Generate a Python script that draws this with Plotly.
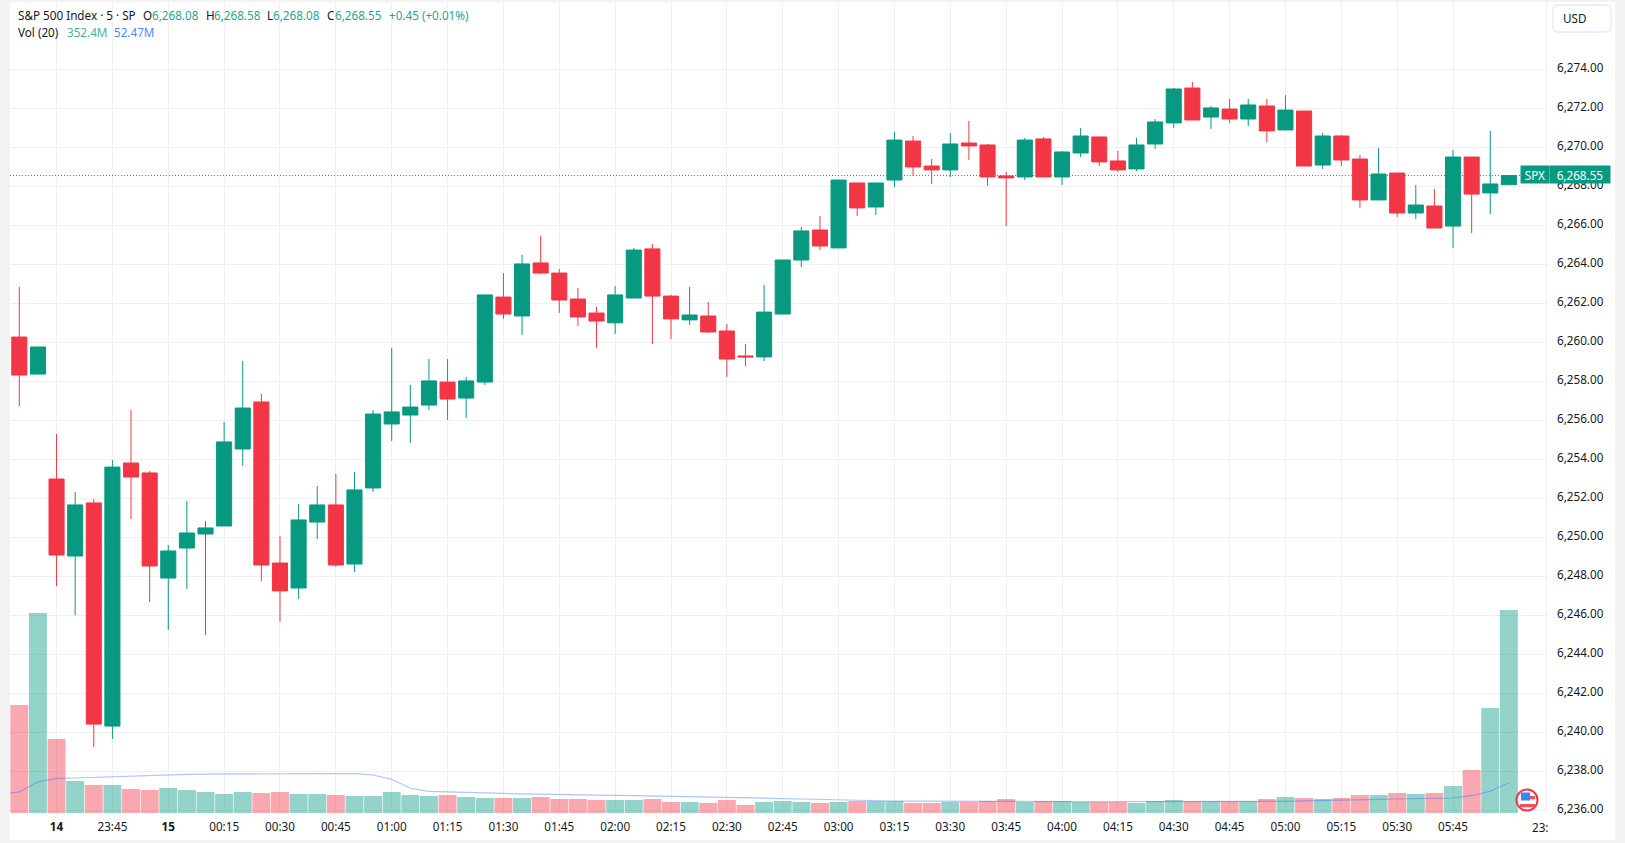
import plotly.graph_objects as go

# ---------- data ----------
candle_index = list(range(81))
opens = [6260.27,6258.37,6252.99,6249.04,6251.76,6240.32,6253.81,6253.30,6247.91,6249.45,6250.17,6250.58,6254.53,6256.94,6248.68,6247.40,6250.78,6251.66,6248.63,6252.53,6255.81,
         6256.27,6256.78,6257.96,6257.14,6257.96,6262.32,6261.35,6264.07,6263.55,6262.22,6261.50,6261.00,6262.27,6264.79,6262.37,6261.15,6261.35,6260.58,6259.30,6259.25,6261.45,
         6264.22,6265.76,6264.84,6268.17,6266.94,6268.32,6270.32,6269.04,6268.84,6270.22,6270.12,6268.53,6268.48,6270.43,6268.48,6269.71,6270.53,6269.30,6268.89,
         6270.17,6271.25,6273.04,6271.55,6271.96,6271.45,6272.12,6270.89,6271.86,6269.09,6270.58,6269.40,6267.30,6268.68,6266.63,6266.99,6265.96,6269.50,6267.66,6268.08]
highs = [6262.84,6259.76,6255.30,6252.32,6251.96,6253.96,6256.53,6253.40,6249.60,6251.86,6250.84,6255.91,6259.04,6257.35,6250.05,6251.71,6252.63,6253.25,6253.35,6256.53,6259.71,
         6257.81,6259.14,6259.14,6258.22,6262.43,6263.55,6264.48,6265.45,6263.76,6262.78,6261.81,6262.89,6264.84,6265.04,6262.43,6262.84,6262.07,6260.94,6259.91,6262.94,6264.22,
         6265.91,6266.48,6268.32,6268.17,6268.17,6270.78,6270.58,6269.40,6270.73,6271.35,6270.17,6268.73,6270.48,6270.53,6269.81,6270.99,6270.53,6269.81,6270.48,
         6271.45,6273.04,6273.35,6272.12,6272.48,6272.48,6272.48,6272.68,6271.86,6270.73,6270.63,6269.60,6269.96,6268.68,6268.07,6267.86,6269.86,6269.50,6270.84,6268.58]
lows = [6256.73,6258.37,6247.50,6246.00,6239.25,6239.66,6250.94,6246.68,6245.25,6247.35,6244.99,6250.58,6253.66,6247.76,6245.66,6246.84,6249.91,6248.48,6248.22,6252.32,6254.94,
        6254.84,6256.53,6256.02,6256.12,6257.81,6261.20,6260.37,6263.50,6261.50,6260.84,6259.71,6260.43,6262.27,6259.91,6260.17,6260.89,6260.48,6258.22,6258.78,6259.04,6261.45,
        6263.86,6264.73,6264.84,6266.48,6266.53,6267.96,6268.53,6268.12,6268.48,6269.35,6268.02,6265.96,6268.32,6268.48,6268.07,6269.50,6269.04,6268.73,6268.78,
        6269.91,6270.99,6271.40,6270.94,6271.25,6271.09,6270.27,6270.89,6269.04,6268.89,6269.04,6266.89,6267.30,6266.43,6266.32,6265.86,6264.84,6265.60,6266.58,6268.08]
closes = [6258.32,6259.76,6249.09,6251.66,6240.42,6253.60,6253.09,6248.53,6249.30,6250.22,6250.48,6254.89,6256.63,6248.58,6247.25,6250.89,6251.66,6248.58,6252.43,6256.32,6256.43,
          6256.68,6258.02,6257.09,6258.02,6262.43,6261.45,6264.02,6263.55,6262.17,6261.30,6261.09,6262.43,6264.73,6262.37,6261.20,6261.40,6260.53,6259.14,6259.25,6261.55,6264.22,
          6265.71,6264.94,6268.32,6266.89,6268.17,6270.37,6268.99,6268.84,6270.17,6270.07,6268.48,6268.43,6270.37,6268.48,6269.76,6270.58,6269.25,6268.84,6270.12,
          6271.30,6272.99,6271.40,6272.02,6271.45,6272.17,6270.84,6271.91,6269.04,6270.58,6269.35,6267.30,6268.63,6266.63,6267.04,6265.86,6269.50,6267.60,6268.12,6268.55]
volumes = [187.5,347.2,128.5,55.6,48.6,48.6,41.7,39.9,43.4,39.9,36.5,33.0,36.5,34.7,36.5,33.0,33.0,31.2,29.5,29.5,36.5,31.2,29.5,31.2,27.8,26.0,
           26.0,26.0,27.8,24.3,24.3,22.6,22.6,22.6,24.3,19.1,19.1,17.4,22.6,13.9,19.1,20.8,19.1,17.4,19.1,20.8,20.8,20.8,17.4,17.4,19.1,19.1,20.8,24.3,19.1,20.8,20.8,19.1,19.1,19.1,17.4,
           20.8,22.6,20.8,20.8,20.8,20.8,24.3,27.8,26.0,24.3,26.0,31.2,31.2,34.7,33.0,34.7,46.9,74.6,182.3,352.4]
vol_ma_index = list(range(-1, 81))
vol_ma = [32.5,36.5,53.8,60.2,60.8,62.0,63.0,64.2,65.4,66.5,67.0,67.4,67.7,67.9,68.1,68.2,68.2,68.2,68.2,68.2,66.0,58.5,42.9,37.7,36.5,35.2,34.2,33.9,33.3,33.0,32.5,31.9,31.2,30.7,30.2,29.7,29.2,28.5,27.8,27.1,26.4,25.7,25.0,24.3,23.4,22.6,21.7,21.2,20.8,20.5,20.3,
          20.1,20.1,20.0,20.0,20.0,19.9,19.9,19.9,19.8,19.8,19.7,19.7,19.7,19.6,19.6,19.6,19.6,19.8,20.1,21.0,22.0,22.6,23.3,23.8,24.3,25.0,25.5,26.0,30.0,37.7,52.47]
x_tick_index = [2,5,8,11,14,17,20,23,26,29,32,35,38,41,44,47,50,53,56,59,62,65,68,71,74,77,82]
x_tick_text = ["<b>14</b>","23:45","<b>15</b>","00:15","00:30","00:45","01:00","01:15","01:30","01:45","02:00","02:15","02:30","02:45",
               "03:00","03:15","03:30","03:45","04:00","04:15","04:30","04:45","05:00","05:15","05:30","05:45",""]
price_ticks = list(range(6236, 6276, 2))
last_price = 6268.55

# ---------- style ----------
GREEN = "#089981"; RED = "#F23645"; FONT = "Noto Sans"; TXT = "#131722"; GRID = "#f0f0f0"; FS = 11.7
L, R, T, B = 10, 1548, 2, 813
PRICE_RANGE = [6235.862, 6277.451]
LABEL_SHIFT = 1 / 19.5  # tick labels sit slightly above their gridlines
xp = lambda p: (p - L) / (R - L)
yp = lambda p: (B - p) / (B - T)

vol_colors = ["rgba(8,153,129,0.43)" if c >= o else "rgba(242,54,69,0.43)" for o, c in zip(opens, closes)]

fig = go.Figure()
fig.add_trace(go.Bar(x=candle_index, y=volumes, marker=dict(color=vol_colors, line_width=0), width=0.965, yaxis="y", hoverinfo="skip"))
fig.add_trace(go.Scatter(x=vol_ma_index, y=vol_ma, mode="lines", line=dict(color="rgba(41,98,255,0.38)", width=1.2), yaxis="y", hoverinfo="skip"))
fig.add_trace(go.Candlestick(x=candle_index, open=opens, high=highs, low=lows, close=closes, yaxis="y2", whiskerwidth=0,
    increasing=dict(line=dict(color=GREEN, width=1), fillcolor=GREEN),
    decreasing=dict(line=dict(color=RED, width=1), fillcolor=RED), hoverinfo="skip"))
fig.add_trace(go.Scatter(x=[None], y=[None], mode="lines", yaxis="y3", hoverinfo="skip"))

def label(px, py, text, color=TXT, size=FS, anchor="left", **kw):
    return dict(xref="paper", yref="paper", x=xp(px), y=yp(py), text=text, showarrow=False, xanchor=anchor, yanchor="middle",
                font=dict(family=FONT, size=size, color=color), **kw)

LG = "#1fa58f"
annotations = [
    label(16, 15.5, "S&P 500 Index · 5 · SP"), label(141, 15.5, "O"), label(150, 15.5, "6,268.08", LG),
    label(203.5, 15.5, "H"), label(211.5, 15.5, "6,268.58", LG), label(265, 15.5, "L"), label(271, 15.5, "6,268.08", LG),
    label(325, 15.5, "C"), label(332.5, 15.5, "6,268.55", LG), label(386.5, 15.5, "+0.45 (+0.01%)", LG),
    label(16, 32.5, "Vol (20)"), label(65, 32.5, "352.4M", "#3db5a3"), label(112, 32.5, "52.47M", "#4a8bf5"),
    label(1561, 18.5, "USD"),
    label(1530, 827, "23:"),
    dict(xref="paper", yref="y2", x=xp(1535), y=last_price, yshift=1, text="SPX", showarrow=False, bgcolor=GREEN, width=26, height=15,
         xanchor="center", yanchor="middle", font=dict(family=FONT, size=FS, color="white")),
    dict(xref="paper", yref="y2", x=xp(1580), y=last_price, yshift=1, text="6,268.55", showarrow=False, bgcolor=GREEN, width=58, height=15,
         xanchor="center", yanchor="middle", font=dict(family=FONT, size=FS, color="white")),
]

def rect(x0, y0, x1, y1, **kw):
    return dict(type="rect", xref="paper", yref="paper", x0=xp(x0), x1=xp(x1), y0=yp(y0), y1=yp(y1), **kw)

r = 5; bx0, by0, bx1, by1 = xp(1553), yp(5), xp(1611), yp(32)
rx = r / (R - L); ry = r / (B - T)
usd_path = (f"M {bx0+rx} {by0} L {bx1-rx} {by0} Q {bx1} {by0} {bx1} {by0-ry} L {bx1} {by1+ry} Q {bx1} {by1} {bx1-rx} {by1} "
            f"L {bx0+rx} {by1} Q {bx0} {by1} {bx0} {by1+ry} L {bx0} {by0-ry} Q {bx0} {by0} {bx0+rx} {by0} Z")

shapes = [
    rect(10, 2, 1615, 840, fillcolor="white", line_width=0, layer="below"),
    dict(type="path", xref="paper", yref="paper", path=usd_path, line=dict(color="#ececec", width=1.5), fillcolor="white"),
    dict(type="line", xref="paper", x0=0, x1=xp(1521), yref="y2", y0=last_price, y1=last_price, line=dict(color=GREEN, width=1, dash="1px,2px")),
    dict(type="circle", xref="paper", yref="paper", x0=xp(1516.5), x1=xp(1537.5), y0=yp(789.5), y1=yp(810.5), fillcolor="white", line=dict(color=RED, width=2)),
    rect(1521, 792.5, 1530, 800.5, fillcolor="#3a86ea", line_width=0),
    rect(1530, 796, 1535, 799.3, fillcolor="#f0525c", line_width=0),
    rect(1520, 804, 1535, 807.3, fillcolor="#f0525c", line_width=0),
]

fig.update_layout(
    width=1625, height=843, autosize=False, showlegend=False,
    margin=dict(l=L, r=1625 - R, t=T, b=843 - B, pad=0),
    paper_bgcolor="#f3f3f3", plot_bgcolor="rgba(0,0,0,0)", barmode="overlay",
    boxgap=0.19, boxgroupgap=0, hovermode=False,
    font=dict(family=FONT, size=FS, color=TXT),
    xaxis=dict(range=[-0.5, 82.1], tickmode="array", tickvals=x_tick_index, ticktext=x_tick_text, tickangle=0,
               showgrid=True, gridcolor=GRID, gridwidth=1, zeroline=False, showline=False, ticks="", rangeslider=dict(visible=False),
               ticklabelstandoff=5, tickfont=dict(family=FONT, size=FS, color=TXT)),
    yaxis=dict(range=[0, 1407.9], showgrid=False, zeroline=False, showticklabels=False, ticks=""),
    yaxis2=dict(range=PRICE_RANGE, overlaying="y", side="right", tickmode="array", tickvals=price_ticks,
                showticklabels=False, showgrid=True, gridcolor=GRID, gridwidth=1, zeroline=False, showline=False, ticks=""),
    yaxis3=dict(range=[PRICE_RANGE[0] - LABEL_SHIFT, PRICE_RANGE[1] - LABEL_SHIFT], overlaying="y", side="right", tickmode="array",
                tickvals=price_ticks, tickformat=",.2f", showgrid=False, zeroline=False, showline=False, ticks="",
                ticklabelstandoff=8, tickfont=dict(family=FONT, size=FS, color=TXT)),
    shapes=shapes, annotations=annotations,
)

fig.write_html("out.html", config=dict(displayModeBar=False),
               post_script="document.body.style.margin='0';document.body.style.overflow='hidden';")
